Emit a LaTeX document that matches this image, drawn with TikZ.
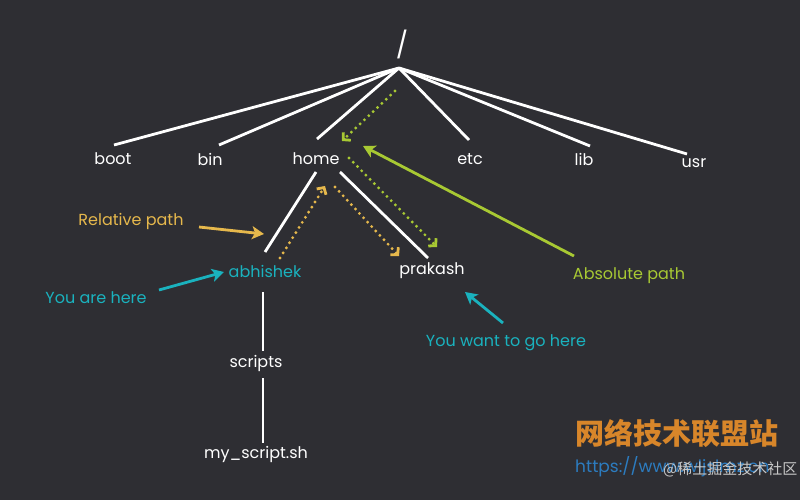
\documentclass[tikz,border=0pt]{standalone}
\usepackage{fontspec}
\setmainfont{Poppins}
\newfontfamily\cjk{Noto Sans CJK SC}
\usetikzlibrary{arrows.meta}
\definecolor{bg}{HTML}{2E2E33}
\definecolor{relc}{HTML}{E6B84C}
\definecolor{absc}{HTML}{A8C933}
\definecolor{herec}{HTML}{1AB2BE}
\definecolor{wmorange}{HTML}{D8862A}
\definecolor{wmblue}{HTML}{2C7CC0}
\definecolor{wmgray}{HTML}{C8C8C8}
\tikzset{
  lbl/.style={inner sep=0pt, font=\fontsize{16}{19}\selectfont, text=white},
  tree/.style={draw=white, line width=2.8pt},
  solidarrow/.style={line width=2.8pt, -{Stealth[length=12pt,width=13pt,inset=3pt]}},
  dotarrow/.style={line width=3.2pt, line cap=round, dash pattern=on 0pt off 6pt,
    -{Straight Barb[length=5pt,width=11pt,line width=2.8pt]}},
}
\begin{document}
\begin{tikzpicture}[x=1pt,y=-1pt]
\fill[bg] (0,0) rectangle (800,500);
\useasboundingbox (0,0) rectangle (800,500);

% root
\node[lbl, font=\fontsize{26}{30}\selectfont] (slash) at (402,44) {/};
\coordinate (root) at (399,68);

% first level
\node[lbl] (boot) at (113,159) {boot};
\node[lbl] (bin) at (210,159) {bin};
\node[lbl] (home) at (316,159) {home};
\node[lbl] (etc) at (470,159) {etc};
\node[lbl] (lib) at (584,159) {lib};
\node[lbl] (usr) at (694,163) {usr};

\coordinate (bootT) at (114,145);
\coordinate (binT) at (219,145);
\coordinate (homeT) at (317,139);
\coordinate (etcT) at (469,140);
\coordinate (libT) at (590,146);
\coordinate (usrT) at (687,154);

\draw[tree] (root) -- (bootT);
\draw[tree] (root) -- (binT);
\draw[tree] (root) -- (homeT);
\draw[tree] (root) -- (etcT);
\draw[tree] (root) -- (libT);
\draw[tree] (root) -- (usrT);

% second level
\node[lbl, text=herec] (abhishek) at (265,271) {abhishek};
\node[lbl] (prakash) at (432,271) {prakash};
\coordinate (homeBL) at (316,172);
\coordinate (homeBR) at (340,172);
\coordinate (abhT) at (265,252);
\coordinate (praT) at (428,258);
\draw[tree] (homeBL) -- (abhT);
\draw[tree] (homeBR) -- (praT);

% third level
\node[lbl] (scripts) at (256,363) {scripts};
\node[lbl] (myscript) at (256,454) {my\_script.sh};
\coordinate (abhB) at (263,292);
\coordinate (scrT) at (263,351);
\coordinate (scrB) at (263,378);
\coordinate (myT) at (263,443);
\draw[tree] (abhB) -- (scrT);
\draw[tree] (scrB) -- (myT);

% absolute path (green)
\coordinate (a1s) at (395,91);
\coordinate (a1e) at (342,141);
\coordinate (a2s) at (349,158);
\coordinate (a2e) at (437,247);
\draw[dotarrow, absc] (a1s) -- (a1e);
\draw[dotarrow, absc] (a2s) -- (a2e);

% relative path (orange)
\coordinate (r1s) at (280,258);
\coordinate (r1e) at (325,186);
\coordinate (r2s) at (335,187);
\coordinate (r2e) at (399,256);
\draw[dotarrow, relc] (r1s) -- (r1e);
\draw[dotarrow, relc] (r2s) -- (r2e);

% labels with arrows
\node[lbl, text=relc] (rellbl) at (131,221) {Relative path};
\coordinate (relS) at (199,227);
\coordinate (relE) at (264,234);
\draw[solidarrow, relc] (relS) -- (relE);

\node[lbl, text=absc] (abslbl) at (629,276) {Absolute path};
\coordinate (absS) at (574,256);
\coordinate (absE) at (363,146);
\draw[solidarrow, absc] (absS) -- (absE);

\node[lbl, text=herec] (herelbl) at (96,298) {You are here};
\coordinate (hereS) at (159,290);
\coordinate (hereE) at (224,272);
\draw[solidarrow, herec] (hereS) -- (hereE);

\node[lbl, text=herec] (wantlbl) at (506,343) {You want to go here};
\coordinate (wantS) at (503,323);
\coordinate (wantE) at (465,292);
\draw[solidarrow, herec] (wantS) -- (wantE);

% watermark
\node[inner sep=0pt, text=wmorange, font=\cjk\bfseries\fontsize{29}{32}\selectfont] (wm1) at (677,433) {网络技术联盟站};
\node[inner sep=0pt, anchor=west, text=wmblue, font=\fontsize{17}{20}\selectfont] (wm2) at (575,467) {https://www.wljslmz.cn};
\node[inner sep=0pt, anchor=west, text=wmgray, font=\cjk\fontsize{15}{18}\selectfont] (wm3) at (663,469) {@稀土掘金技术社区};
\end{tikzpicture}
\end{document}
